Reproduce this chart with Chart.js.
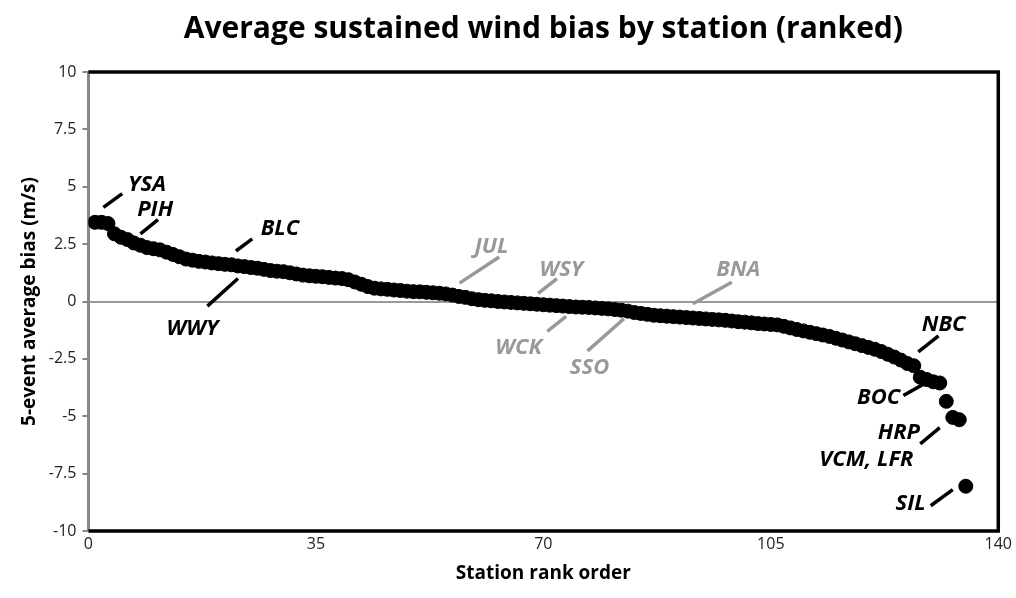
<!DOCTYPE html>
<html><head><meta charset="utf-8">
<script src="https://cdn.jsdelivr.net/npm/chart.js@4"></script>
<style>html,body{margin:0;background:#fff}#w{width:1016px;height:598px}</style>
</head><body><div id="w"><canvas id="c"></canvas></div>
<script>
const bias = [
3.45,3.45,3.4,
2.95,2.8,2.7,2.55,2.45,
2.35,2.3,2.25,2.15,2.05,1.95,
1.85,1.8,1.75,1.72,1.68,1.65,1.62,1.6,
1.55,1.52,1.48,1.45,1.4,1.35,1.32,1.3,
1.25,1.2,1.15,1.12,1.1,1.08,1.05,1.02,1.0,0.95,
0.85,0.75,0.65,0.58,0.55,
0.53,0.5,0.48,0.45,0.43,0.42,0.4,0.38,0.36,0.33,
0.28,0.22,0.18,0.12,0.08,0.05,0.03,0.0,
-0.02,-0.04,-0.06,-0.08,-0.1,-0.12,-0.14,
-0.16,-0.18,-0.2,-0.22,-0.24,-0.25,-0.26,-0.28,-0.3,-0.32,-0.35,-0.38,-0.42,
-0.48,-0.52,-0.56,-0.6,-0.62,-0.64,-0.66,-0.68,-0.7,-0.72,-0.74,
-0.76,-0.78,-0.8,-0.82,-0.85,-0.88,-0.9,-0.93,-0.96,-0.98,-1.0,-1.02,
-1.08,-1.15,-1.22,-1.28,-1.34,-1.4,-1.46,-1.52,
-1.6,-1.68,-1.76,-1.84,-1.92,-2.0,-2.08,-2.18,
-2.3,-2.42,-2.55,-2.7,-2.8,
-3.3,-3.4,-3.5,-3.55,
-4.35,
-5.05,-5.15,
-8.05];
const ranks = bias.map((v,i)=>i+1);
const chartTitle = "Average sustained wind bias by station (ranked)";
// station annotations: [text, textX, textY, align, lineX1, lineY1, lineX2, lineY2, colour]
const labels = [
 ["YSA",6.1,5.1,"left",2.3,4.1,5.2,4.7,"#000"],
 ["PIH",7.5,4.0,"left",8,2.95,10.7,3.57,"#000"],
 ["BLC",26.5,3.15,"left",22.7,2.2,25.2,2.73,"#000"],
 ["WWY",16,-1.2,"center",18.3,-0.2,23,1.0,"#000"],
 ["JUL",59.4,2.4,"left",57.1,0.8,63.2,1.94,"#999"],
 ["WSY",69.4,1.4,"left",69.2,0.35,72.1,1.0,"#999"],
 ["WCK",66.2,-2.0,"center",70.6,-1.3,73.5,-0.65,"#999"],
 ["SSO",77.1,-2.9,"center",76.8,-2.15,82.4,-0.75,"#999"],
 ["BNA",100,1.4,"center",93,-0.1,99,0.84,"#999"],
 ["NBC",131.6,-1.0,"center",127.7,-2.2,130.8,-1.5,"#000"],
 ["BOC",121.6,-4.2,"center",125.4,-4.1,128.5,-3.6,"#000"],
 ["HRP",124.7,-5.7,"center",128,-6.2,131,-5.5,"#000"],
 ["VCM, LFR",119.7,-6.9,"center",null,null,null,null,"#000"],
 ["SIL",126.5,-8.8,"center",129.6,-8.9,133,-8.2,"#000"]
];
const annot = {id:"annot", afterDatasetsDraw(ch){
  const c=ch.ctx, x=ch.scales.x, y=ch.scales.y, a=ch.chartArea;
  c.save();
  for(const l of labels){
    c.strokeStyle=l[8]; c.fillStyle=l[8]; c.lineWidth=3.5;
    if(l[4]!==null){c.beginPath();c.moveTo(x.getPixelForValue(l[4]),y.getPixelForValue(l[5]));c.lineTo(x.getPixelForValue(l[6]),y.getPixelForValue(l[7]));c.stroke();}
    c.font="italic bold 22px 'Open Sans'"; c.textAlign=l[3]; c.textBaseline="middle";
    c.fillText(l[0],x.getPixelForValue(l[1]),y.getPixelForValue(l[2]));
  }
  c.fillStyle="#000"; c.font="bold 30px 'Open Sans'"; c.textAlign="center"; c.textBaseline="middle";
  c.fillText(chartTitle,(a.left+a.right)/2,29);
  c.strokeStyle="#000"; c.lineWidth=3.5; c.beginPath();
  c.moveTo(a.left,a.top);c.lineTo(a.right,a.top);c.lineTo(a.right,a.bottom);c.lineTo(a.left,a.bottom);c.stroke();
  c.restore();
}};
new Chart(document.getElementById("c"),{
 type:"scatter",
 data:{datasets:[{data:ranks.map((r,i)=>({x:r,y:bias[i]})),backgroundColor:"#000",borderColor:"#000",pointRadius:7,pointHoverRadius:7}]},
 options:{responsive:true,maintainAspectRatio:false,animation:false,
  layout:{padding:{left:14,right:14,top:72,bottom:9}},
  plugins:{legend:{display:false},tooltip:{enabled:false},title:{display:false}},
  scales:{
   x:{type:"linear",min:0,max:140,ticks:{stepSize:35,color:"#222",font:{family:"'Open Sans'",size:16},padding:4},
      grid:{display:false,drawTicks:false},border:{display:false},
      title:{display:true,text:"Station rank order",color:"#000",font:{family:"'Open Sans'",size:19,weight:"bold"},padding:{top:4}}},
   y:{min:-10,max:10,ticks:{stepSize:2.5,color:"#222",font:{family:"'Open Sans'",size:16},padding:6},
      grid:{color:c=>c.tick.value===0?"#999":"transparent",lineWidth:2,drawTicks:true,tickLength:6,tickColor:"#888"},
      border:{display:true,color:"#888",width:3},
      title:{display:true,text:"5-event average bias (m/s)",color:"#000",font:{family:"'Open Sans'",size:19,weight:"bold"},padding:{bottom:2}}}
  }}
 ,plugins:[annot]});
</script></body></html>
